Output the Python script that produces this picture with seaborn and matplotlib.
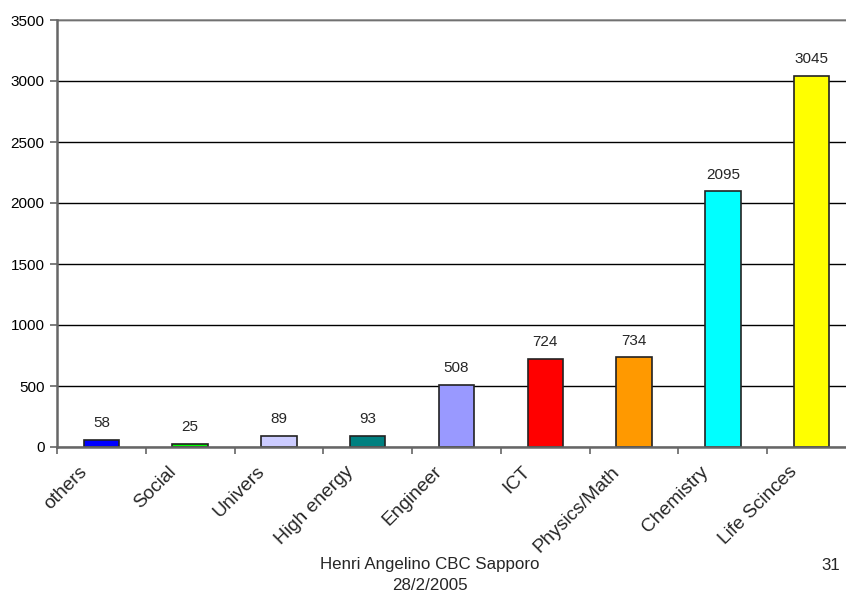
import matplotlib
matplotlib.use("Agg")
import matplotlib.pyplot as plt
import matplotlib.transforms as mtransforms
import seaborn as sns

categories = ["others", "Social", "Univers", "High energy", "Engineer",
              "ICT", "Physics/Math", "Chemistry", "Life Scinces"]
values = [58, 25, 89, 93, 508, 724, 734, 2095, 3045]
bar_colors = ["#0000FF", "#00FF00", "#CCCCFF", "#008080", "#9999FF",
              "#FF0000", "#FF9900", "#00FFFF", "#FFFF00"]
y_ticks = [0, 500, 1000, 1500, 2000, 2500, 3000, 3500]

sns.set_theme(style="white")
plt.rcParams["font.family"] = ["Liberation Sans", "DejaVu Sans"]

fig = plt.figure(figsize=(8.46, 5.95), dpi=100)
ax = fig.add_axes([57 / 846, 148 / 595, 799 / 846, 427 / 595])

sns.barplot(x=categories, y=values, hue=categories, palette=bar_colors,
            width=0.4, legend=False, dodge=False, ax=ax,
            edgecolor="#222222", linewidth=1.2, saturation=1)

ax.set_xlim(-0.5, len(categories) - 0.5)
ax.set_ylim(0, 3500)
ax.set_yticks(y_ticks)
ax.set_yticklabels([str(t) for t in y_ticks], fontsize=11)
ax.set_axisbelow(True)
ax.yaxis.grid(True, color="black", linewidth=1)
ax.xaxis.grid(False)

for s in ["top", "right"]:
    ax.spines[s].set_visible(False)
for s in ["left", "bottom"]:
    ax.spines[s].set_color("#666666")
    ax.spines[s].set_linewidth(1.8)

ax.tick_params(axis="y", which="major", left=True, length=5, width=1.2,
               color="#666666", pad=4, labelcolor="black")

# category labels at bar centres, tick marks between categories
ax.set_xticks(range(len(categories)))
ax.set_xticks([i + 0.5 for i in range(-1, len(categories))], minor=True)
ax.tick_params(axis="x", which="major", length=0, pad=0)
ax.tick_params(axis="x", which="minor", bottom=True, length=5, width=1.2,
               color="#666666")
offset = mtransforms.ScaledTranslation(-23 / 100, -16 / 100, fig.dpi_scale_trans)
ax.set_xticklabels(categories, rotation=45, ha="right", va="top",
                   rotation_mode="anchor", fontsize=13.8)
for lbl in ax.get_xticklabels():
    lbl.set_transform(lbl.get_transform() + offset)

ax.set_xlabel("")
ax.set_ylabel("")

# value labels above bars
for i, v in enumerate(values):
    ax.annotate(str(v), xy=(i, v), xytext=(0, 12), textcoords="offset points",
                ha="center", va="center", fontsize=11)

# top gridline drawn lighter
ax.axhline(3500, color="#888888", linewidth=1.2, clip_on=False)

fig.text(430 / 846, 1 - 565 / 595, "Henri Angelino CBC Sapporo",
         ha="center", va="center", fontsize=12.2)
fig.text(430 / 846, 1 - 586 / 595, "28/2/2005",
         ha="center", va="center", fontsize=12.2)
fig.text(831 / 846, 1 - 565 / 595, "31", ha="center", va="center", fontsize=12.2)

fig.savefig("out.png", dpi=100)
